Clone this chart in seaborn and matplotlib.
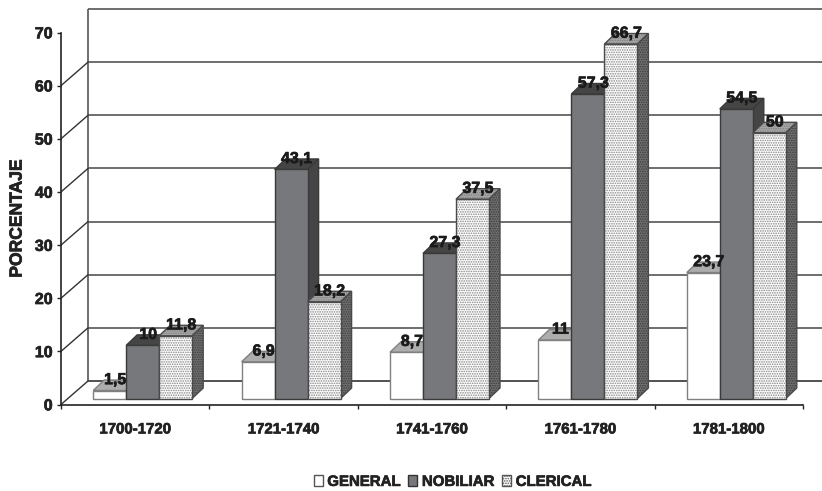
import pandas as pd
import matplotlib
matplotlib.use('Agg')
import matplotlib.pyplot as plt
import matplotlib.patheffects as pe
from matplotlib.patches import Polygon, Rectangle
from matplotlib.text import Text
from matplotlib.transforms import Affine2D
import seaborn as sns

# Data
periods = ['1700-1720', '1721-1740', '1741-1760', '1761-1780', '1781-1800']
general = [1.5, 6.9, 8.7, 11, 23.7]
nobiliar = [10, 43.1, 27.3, 57.3, 54.5]
clerical = [11.8, 18.2, 37.5, 66.7, 50]
series = ['GENERAL', 'NOBILIAR', 'CLERICAL']
yticks = [0, 10, 20, 30, 40, 50, 60, 70]

df = pd.DataFrame({
    'period': periods * 3,
    'serie': [s for s in series for _ in periods],
    'value': general + nobiliar + clerical,
})

sns.set_style('white')
plt.rcParams['font.family'] = ['Liberation Sans', 'DejaVu Sans']
plt.rcParams['font.weight'] = 'bold'
plt.rcParams['hatch.linewidth'] = 0.8
plt.rcParams['text.hinting'] = 'no_hinting'

W, H = 822, 491
fig = plt.figure(figsize=(W / 100, H / 100), dpi=100)
ax = fig.add_axes([61 / W, (H - 404.5) / H, 742 / W, 372 / H])

sns.barplot(data=df, x='period', y='value', hue='serie', hue_order=series,
            palette=['white', '#77787b', 'white'], saturation=1,
            width=0.667, legend=False, ax=ax)
ax.set_xlim(-0.5, 4.5)
ax.set_ylim(0, 70)

# Depth of the fake 3D box, in pixels
WALL = (27, 23.5)
BAR_SHIFT = (7.5, 6)
BAR_DEPTH = (11, 10.5)

# Back wall and gridlines
wall_tr = ax.transData + Affine2D().translate(*WALL)
ax.hlines(yticks[1:], -0.5, 4.5, colors='#555555', lw=1.2, transform=wall_tr,
          zorder=1, clip_on=False)
ax.hlines(0, -0.5, 4.5, colors='#333333', lw=1.2, transform=wall_tr, zorder=1, clip_on=False)
ax.vlines(-0.5, 0, 70, colors='#555555', lw=1.2, transform=wall_tr, zorder=1, clip_on=False)
for v in yticks:
    x0, y0 = ax.transData.transform((-0.5, v))
    ax.add_line(plt.Line2D([x0, x0 + WALL[0]], [y0, y0 + WALL[1]], transform=None,
                           color='#333333', lw=1, zorder=1))
x0, y0 = ax.transData.transform((4.5, 0))
ax.add_line(plt.Line2D([x0, x0 + WALL[0]], [y0, y0 + WALL[1]], transform=None,
                       color='#333333', lw=1, zorder=1))


def face(pts, fc, ec, z, hatch=None, hc=None):
    if hatch:
        ax.add_patch(Polygon(pts, closed=True, facecolor=fc, edgecolor=hc, hatch=hatch,
                             lw=0, transform=None, zorder=z, clip_on=False))
        fc = 'none'
    ax.add_patch(Polygon(pts, closed=True, facecolor=fc, edgecolor=ec, lw=1,
                         transform=None, zorder=z, clip_on=False, joinstyle='miter'))


styles = [
    dict(edge='#808080', top='#adadad', side='#adadad'),
    dict(edge='#3a3a3a', top='#454545', side='#454545'),
    dict(edge='#4a4a4a', top='#a8a8a8', side='#707070'),
]
bar_tr = ax.transData + Affine2D().translate(*BAR_SHIFT)
dx, dy = BAR_DEPTH

for k, container in enumerate(ax.containers):
    st = styles[k]
    for bar in container:
        bar.set_transform(bar_tr)
        bar.set_clip_on(False)
        bar.set_zorder(3 + k + 0.3)
        bar.set_linewidth(1)
        bar.set_edgecolor(st['edge'])
        x, w, h = bar.get_x(), bar.get_width(), bar.get_height()
        (xa, ya), (xb, yb) = bar_tr.transform([(x, 0), (x + w, h)])
        top = [(xa, yb), (xb, yb), (xb + dx, yb + dy), (xa + dx, yb + dy)]
        side = [(xb, ya), (xb + dx, ya + dy), (xb + dx, yb + dy), (xb, yb)]
        if k == 2:
            # dotted faces
            bar.set_edgecolor('#858585')
            bar.set_hatch('.......')
            bar.set_linewidth(0)
            face([(xa, ya), (xb, ya), (xb, yb), (xa, yb)], 'none', st['edge'], 3 + k + 0.4)
            face(top, st['top'], st['edge'], 3 + k, hatch='.......', hc='#808080')
            face(side, st['side'], st['edge'], 3 + k, hatch='.......', hc='#3c3c3c')
        else:
            face(top, st['top'], st['edge'], 3 + k)
            face(side, st['side'], st['edge'], 3 + k)
        ax.annotate(f'{h:g}'.replace('.', ','), xy=(x + w / 2, h), xycoords=bar_tr,
                    xytext=(5.5, 10.5), textcoords='offset pixels',
                    ha='center', va='center', fontsize=11.5, fontweight='bold',
                    color='#1a1a1a', zorder=10, annotation_clip=False)

# Axes
sns.despine(ax=ax)
for s in ['left', 'bottom']:
    ax.spines[s].set_color('#222222')
    ax.spines[s].set_linewidth(1.2)
ax.set_yticks(yticks)
ax.set_xticks(range(len(periods)), periods)
ax.set_xticks([-0.5, 0.5, 1.5, 2.5, 3.5, 4.5], minor=True)
ax.tick_params(axis='x', which='major', length=0, pad=13, labelsize=10.8, labelcolor='#222222')
ax.tick_params(axis='x', which='minor', length=3, width=1, color='#222222', bottom=True)
ax.tick_params(axis='y', length=3, width=1, color='#222222', left=True, pad=3,
               labelsize=11.5, labelcolor='#222222')
ax.set_xlabel('')
ax.set_ylabel('PORCENTAJE', fontsize=12.6, fontweight='bold', color='#222222', labelpad=7)
ax.patch.set_alpha(0)

# Legend
handles = [Rectangle((0, 0), 1, 1, facecolor='white', edgecolor='#555555', lw=1),
           Rectangle((0, 0), 1, 1, facecolor='#77787b', edgecolor='#333333', lw=1),
           Rectangle((0, 0), 1, 1, facecolor='white', edgecolor='#555555', lw=1, hatch='.......')]
fig.legend(handles, series, loc='center', bbox_to_anchor=(452.5 / W, (H - 482) / H), ncol=3,
           frameon=False, fontsize=10.8, handlelength=0.62, handleheight=0.7,
           handletextpad=0.3, columnspacing=0.5, labelcolor='#222222')

# the scan makes all the text look heavier
for t in fig.findobj(Text):
    t.set_path_effects([pe.withStroke(linewidth=0.5, foreground='#222222')])

plt.savefig('out.png', dpi=100)
